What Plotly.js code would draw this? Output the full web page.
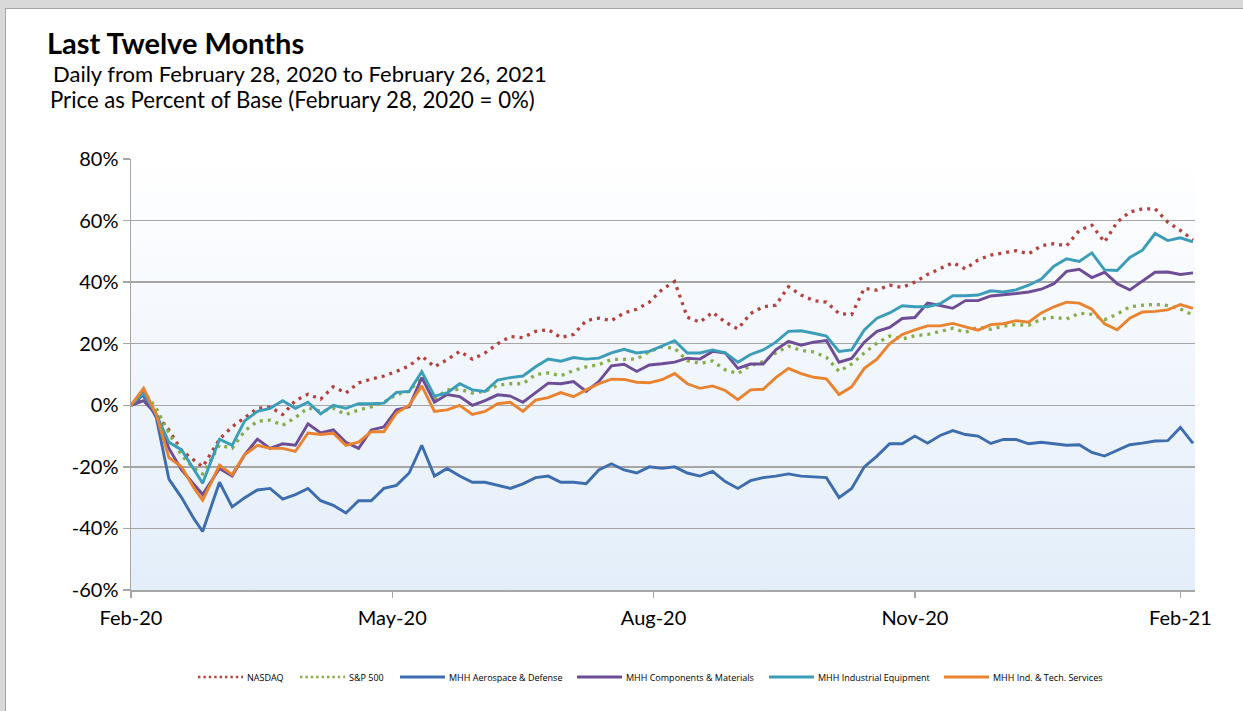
<!DOCTYPE html>
<html><head><meta charset="utf-8">
<script src="https://cdn.plot.ly/plotly-3.0.1.min.js"></script>
<style>
html,body{margin:0;padding:0;background:#d9d9d9;width:1243px;height:711px;overflow:hidden;}
#frame{position:absolute;left:5px;top:8px;width:1238px;height:703px;background:#fff;border-left:1px solid #a6a6a6;border-top:1px solid #a6a6a6;}
#grad{position:absolute;left:131px;top:159px;width:1064px;height:431px;background:linear-gradient(to bottom,#ffffff 0%,#eef4fc 60%,#e3eefa 100%);}
#chart{position:absolute;left:7px;top:10px;width:1236px;height:701px;}
</style></head>
<body>
<div id="frame"></div>
<div id="grad"></div>
<div id="chart"></div>
<script>
// trading-day index since Feb 28, 2020
const day = [0,3,6,9,12,15,17,21,24,27,
  30,33,36,39,42,45,48,51,54,57,
  60,63,66,69,72,75,78,81,84,87,
  90,93,96,99,102,105,108,111,114,117,
  120,123,126,129,132,135,138,141,144,147,
  150,153,156,159,162,165,168,171,174,177,
  180,183,186,189,192,195,198,201,204,207,
  210,213,216,219,222,225,228,231,234,237,
  240,243,246,249,252];

const nasdaq = [0,3,-3,-8,-14.7,-18,-20,-11,-7,-4,
  -1,-0.6,-3,1.5,3.6,2,6,4,7.3,8.5,
  9.5,11,12.8,16,12.5,14.8,17.5,15,17,20,
  22.3,22,24,24.6,22,23,27.5,28.3,27.5,30,
  31.2,33.5,37.6,40.2,28.6,27,30.2,27,24.8,29.8,
  32,32.5,38.5,35.8,34,33.5,29.8,29.5,38,37.4,
  39,38.3,40,42.5,44.3,46.3,44.3,47.2,48.8,49.5,
  50.2,49.2,51.8,52.5,51.8,56.8,58.5,53,59.5,62.8,
  63.8,63.8,59.5,56.8,53.7];

const sp500 = [0,4.5,-1,-9,-16.3,-20.5,-22.3,-12.9,-14,-8.3,
  -5.2,-4.8,-6.5,-4,-0.8,-2,-1,-3,-1.5,-0.5,
  1,3.5,4.5,9.3,2,5,5.2,4,4.5,6.5,
  7,7,10,10.5,9.6,11.3,12.5,13.2,14.9,14.9,
  15,17.4,19,18.5,14.5,13.6,14.4,11.5,10.3,12.9,
  14.2,17,19.2,17.8,17.3,15.6,11,13.4,17,20.2,
  22.5,21.5,22.6,23,24,25,23.7,25.4,24.7,25.7,
  26.2,26,28,28.6,28,29.9,29.5,27.8,29.6,32,
  32.5,32.8,32.4,31.3,29.3];

const aerospace = [0,3.5,-4,-24,-30,-37,-41,-25,-33,-30,
  -27.5,-27,-30.5,-29,-27,-31,-32.5,-35,-31,-31,
  -27,-26,-22,-13,-23,-20.5,-23,-25,-25,-26,
  -27,-25.5,-23.5,-23,-25,-25,-25.5,-21,-19,-21,
  -22,-20,-20.5,-20,-22,-23,-21.5,-24.8,-27,-24.5,
  -23.5,-23,-22.3,-23,-23.3,-23.5,-30,-27,-20,-16.5,
  -12.5,-12.5,-10,-12.3,-9.8,-8.2,-9.5,-10,-12.4,-11.1,
  -11.1,-12.5,-12,-12.6,-13,-12.8,-15.3,-16.5,-14.6,-12.8,
  -12.3,-11.6,-11.5,-7.2,-12.4];

const components = [0,1.5,-3,-14,-21,-26,-29,-20.5,-23,-16,
  -11,-14,-12.5,-13,-6,-9,-8,-12,-14,-8,
  -7,-1.5,-0.5,9,1,3.5,2.8,0,1.5,3.4,
  3,1,4,7.2,7,7.7,4.5,7.7,12.8,13.3,
  11,13.1,13.5,14,15.3,15,17.5,17,12,13.4,
  13.4,18,20.8,19.5,20.5,21,14,15.2,20.5,24,
  25.3,28.2,28.5,33.2,32.4,31.5,34,34,35.5,35.8,
  36.3,36.8,37.7,39.5,43.5,44.2,41.5,43.2,39.5,37.5,
  40.3,43.2,43.3,42.5,43];

const industrial = [0,4,-3,-12,-14.5,-21,-25.3,-11,-13,-5,
  -2,-1,1.5,-1,1,-2.8,0,-1,0.5,0.5,
  0.7,4.2,4.5,10.9,3,4,7,5,4.5,8.2,
  9,9.5,12.5,15,14.3,15.5,15,15.3,17,18.2,
  17,17.5,19.3,21,17,17,18,17,14,16.5,
  18,20.5,24,24.2,23.4,22.5,17.5,18,24.5,28.3,
  30,32.3,32,32,33,35.6,35.6,35.8,37.2,36.8,
  37.5,39,41,45.2,47.6,46.7,49.5,44,43.8,48,
  50.4,55.8,53.5,54.4,53.1];

const techServices = [0,5.5,-3,-17,-20,-27,-30.8,-19.5,-22.5,-16,
  -13,-14,-14,-15,-9,-9.5,-9.1,-13,-12,-8.6,
  -8.6,-2.5,0,6.3,-2,-1.5,0,-3,-2,0.5,
  1,-2,1.7,2.5,4.1,2.8,5,7,8.5,8.4,
  7.5,7.3,8.3,10.3,7,5.5,6.3,4.8,1.8,5,
  5.2,9,12,10.3,9.1,8.6,3.5,6,12,15,
  20,23,24.5,25.8,25.8,26.6,25.5,24.4,26.2,26.5,
  27.5,27,30,32,33.5,33.2,31.2,26.5,24.5,28.3,
  30.3,30.5,31,32.7,31.5];

const seriesNames = ['NASDAQ','S&P 500','MHH Aerospace & Defense','MHH Components & Materials','MHH Industrial Equipment','MHH Ind. & Tech. Services'];
const xTickVals = [0,62,124,186,249];
const xTickText = ['Feb-20','May-20','Aug-20','Nov-20','Feb-21'];
const yTickVals = [-60,-40,-20,0,20,40,60,80];
const yTickText = ['-60%','-40%','-20%','0%','20%','40%','60%','80%'];

const values = [nasdaq, sp500, aerospace, components, industrial, techServices];
const colors = ['#b5403d','#86ad47','#3d6dae','#6c4d96','#3b9db8','#e9832f'];
const dashes = ['3px,5px','3px,5px','solid','solid','solid','solid'];
const widths = [3.3,3.3,2.9,2.9,2.9,2.9];

const traces = values.map((v,i)=>({
  x: day, y: v, type:'scatter', mode:'lines', name: seriesNames[i],
  line:{color:colors[i], width:widths[i], dash:dashes[i]},
  hoverinfo:'skip', showlegend:false
}));

// plot area geometry within the chart div (pixels) for placing layout items
const W = 1236, H = 701, ML = 124, MR = 48, MT = 149, MB = 121;
const PW = W - ML - MR, PH = H - MT - MB;
const OX = 7, OY = 10; // chart div offset in page
const px = x => (x - OX - ML) / PW;
const py = y => (H - MB - (y - OY)) / PH;

// custom legend (sample lines like the original, 45 px long)
const legendStart = [198, 300, 400, 577, 769, 944];
const legendY = 677;
const shapes = [], annotations = [];
legendStart.forEach((s,i)=>{
  shapes.push({type:'line', xref:'paper', yref:'paper', x0:px(s), x1:px(s+45), y0:py(legendY), y1:py(legendY),
    line:{color:colors[i], width: i<2 ? 2.4 : 2.8, dash: i<2 ? '2.4px,3px' : 'solid'}});
  annotations.push({xref:'paper', yref:'paper', x:px(s+47), y:py(legendY), xanchor:'left', yanchor:'middle',
    showarrow:false, text:seriesNames[i].replace('&','&amp;'), font:{family:'"Open Sans", sans-serif', size:9, color:'#000'}});
});

const fontMain = 'Lato, "Open Sans", sans-serif';
annotations.push(
  {xref:'paper', yref:'paper', x:px(45), y:py(42), xanchor:'left', yanchor:'middle', showarrow:false,
   text:'<b>Last Twelve Months</b>', font:{family:fontMain, size:29, color:'#000'}},
  {xref:'paper', yref:'paper', x:px(51), y:py(73), xanchor:'left', yanchor:'middle', showarrow:false,
   text:'Daily from February 28, 2020 to February 26, 2021', font:{family:fontMain, size:22, color:'#000'}},
  {xref:'paper', yref:'paper', x:px(48), y:py(99), xanchor:'left', yanchor:'middle', showarrow:false,
   text:'Price as Percent of Base (February 28, 2020 = 0%)', font:{family:fontMain, size:22.2, color:'#000'}}
);

const layout = {
  width:W, height:H,
  margin:{l:ML, r:MR, t:MT, b:MB, pad:0},
  paper_bgcolor:'rgba(0,0,0,0)', plot_bgcolor:'rgba(0,0,0,0)',
  showlegend:false,
  xaxis:{range:[0,252.47], tickmode:'array', tickvals:xTickVals, ticktext:xTickText,
    ticks:'outside', ticklen:6, tickwidth:1.3, tickcolor:'#a6a6a6',
    showgrid:false, zeroline:false, showline:true, linecolor:'#a6a6a6', linewidth:1.5,
    tickfont:{family:fontMain, size:20, color:'#000'}, ticklabelstandoff:3, fixedrange:true},
  yaxis:{range:[-60,80], tickmode:'array', tickvals:yTickVals, ticktext:yTickText,
    ticks:'outside', ticklen:7, tickwidth:1.3, tickcolor:'#a6a6a6',
    showgrid:true, gridcolor:'#a6a6a6', gridwidth:1.4, zeroline:false,
    showline:true, linecolor:'#a6a6a6', linewidth:1.5,
    tickfont:{family:fontMain, size:20, color:'#000'}, fixedrange:true},
  shapes: shapes,
  annotations: annotations
};
Plotly.newPlot('chart', traces, layout, {displayModeBar:false, staticPlot:true});
</script>
</body></html>
